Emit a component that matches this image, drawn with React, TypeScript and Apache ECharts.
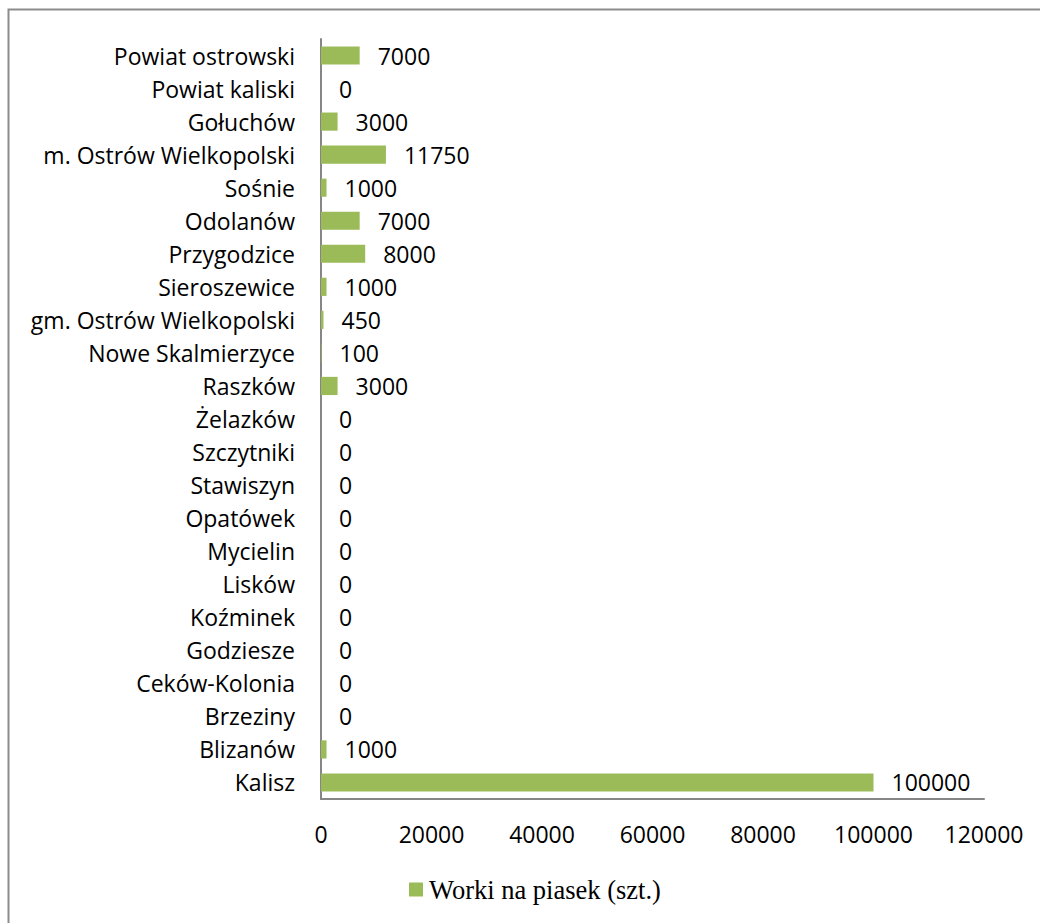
import React, { useEffect, useRef } from "react";
import * as echarts from "echarts";

const categories = [
  "Kalisz",
  "Blizanów",
  "Brzeziny",
  "Ceków-Kolonia",
  "Godziesze",
  "Koźminek",
  "Lisków",
  "Mycielin",
  "Opatówek",
  "Stawiszyn",
  "Szczytniki",
  "Żelazków",
  "Raszków",
  "Nowe Skalmierzyce",
  "gm. Ostrów Wielkopolski",
  "Sieroszewice",
  "Przygodzice",
  "Odolanów",
  "Sośnie",
  "m. Ostrów Wielkopolski",
  "Gołuchów",
  "Powiat kaliski",
  "Powiat ostrowski",
];

const values = [100000, 1000, 0, 0, 0, 0, 0, 0, 0, 0, 0, 0, 3000, 100, 450, 1000, 8000, 7000, 1000, 11750, 3000, 0, 7000];

const seriesName = "Worki na piasek (szt.)";
const xTicks = [0, 20000, 40000, 60000, 80000, 100000, 120000];

const FONT = "'Open Sans', sans-serif";
const FS = 23;

export default function App() {
  const ref = useRef<HTMLDivElement>(null);
  useEffect(() => {
    const chart = echarts.init(ref.current!, undefined, { renderer: "svg" });
    chart.setOption({
      animation: false,
      backgroundColor: "#ffffff",
      graphic: [
        {
          type: "rect",
          shape: { x: 8.5, y: 9.5, width: 1100, height: 1000 },
          style: { fill: "none", stroke: "#8c8c8c", lineWidth: 2 },
          silent: true,
          z: 100,
        },
      ],
      grid: { left: 321, right: 56, top: 39, bottom: 124, containLabel: false },
      xAxis: {
        type: "value",
        min: xTicks[0],
        max: xTicks[xTicks.length - 1],
        interval: 20000,
        axisLine: { show: true, lineStyle: { color: "#868686", width: 2 } },
        axisTick: { show: false },
        splitLine: { show: false },
        axisLabel: {
          color: "#000",
          fontFamily: FONT,
          fontSize: FS,
          margin: 23,
          formatter: (v: number) => String(v),
        },
      },
      yAxis: {
        type: "category",
        data: categories,
        axisLine: { show: true, lineStyle: { color: "#868686", width: 2 } },
        axisTick: { show: false },
        axisLabel: { color: "#000", fontFamily: FONT, fontSize: FS, margin: 26 },
      },
      legend: {
        top: 871,
        left: 404,
        itemWidth: 14,
        itemHeight: 14,
        itemGap: 2,
        icon: "rect",
        textStyle: {
          fontFamily: "'Liberation Serif', 'Times New Roman', serif",
          fontSize: 26.5,
          color: "#000",
          padding: [0, 0, 0, 1],
        },
        data: [seriesName],
      },
      series: [
        {
          name: seriesName,
          type: "bar",
          data: values,
          barWidth: "55%",
          itemStyle: { color: "#9BBB59" },
          label: {
            show: true,
            position: "right",
            distance: 18,
            color: "#000",
            fontFamily: FONT,
            fontSize: FS,
          },
        },
      ],
    });
    return () => chart.dispose();
  }, []);
  return (
    <div
      ref={ref}
      style={{ position: "fixed", left: 0, top: 0, width: 1040, height: 923 }}
    />
  );
}
